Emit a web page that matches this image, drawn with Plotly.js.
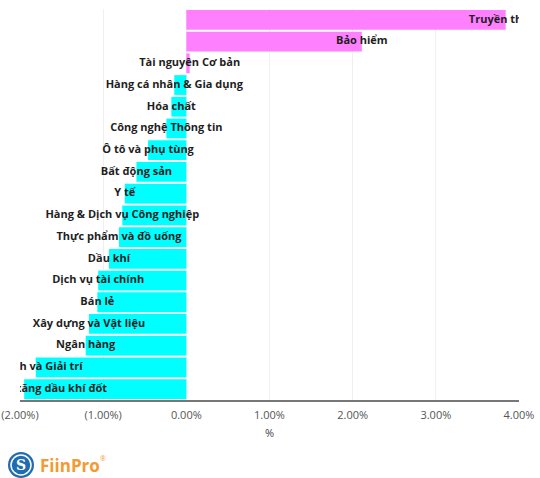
<!DOCTYPE html>
<html>
<head>
<meta charset="utf-8">
<script src="https://cdn.plot.ly/plotly-3.0.1.min.js"></script>
<style>html,body{margin:0;padding:0;background:#fff;}#chart{width:540px;height:478px;}</style>
</head>
<body>
<div id="chart"></div>
<script>
const sectors = [
  "Truyền thông",
  "Bảo hiểm",
  "Tài nguyên Cơ bản",
  "Hàng cá nhân & Gia dụng",
  "Hóa chất",
  "Công nghệ Thông tin",
  "Ô tô và phụ tùng",
  "Bất động sản",
  "Y tế",
  "Hàng & Dịch vụ Công nghiệp",
  "Thực phẩm và đồ uống",
  "Dầu khí",
  "Dịch vụ tài chính",
  "Bán lẻ",
  "Xây dựng và Vật liệu",
  "Ngân hàng",
  "Du lịch và Giải trí",
  "Điện, nước & xăng dầu khí đốt"
];
const changes = [3.84, 2.11, 0.04, -0.145, -0.18, -0.24, -0.46, -0.60, -0.74, -0.77, -0.81, -0.93, -1.06, -1.07, -1.17, -1.21, -1.81, -1.95];
const tickVals = [-2, -1, 0, 1, 2, 3, 4];
const tickLabels = ["(2.00%)", "(1.00%)", "0.00%", "1.00%", "2.00%", "3.00%", "4.00%"];

const POS = "#FF80FF", NEG = "#00FFFF";
const colors = changes.map(v => v >= 0 ? POS : NEG);

const bars = {
  type: "bar", orientation: "h",
  x: changes, y: sectors,
  marker: {color: colors, line: {width: 0}},
  hoverinfo: "skip", showlegend: false
};
const labels = {
  type: "scatter", mode: "text",
  x: changes, y: sectors,
  text: sectors,
  textposition: "middle center",
  textfont: {family: "Open Sans, sans-serif", size: 11, color: "#1e1e1e", weight: "bold"},
  cliponaxis: true,
  hoverinfo: "skip", showlegend: false
};

const layout = {
  width: 540, height: 478,
  margin: {l: 20, r: 21, t: 9, b: 78},
  paper_bgcolor: "#fff", plot_bgcolor: "#fff",
  bargap: 0.09,
  font: {family: "Open Sans, sans-serif"},
  xaxis: {
    range: [-2, 4], tickvals: tickVals, ticktext: tickLabels,
    showgrid: true, gridcolor: "#f0f0f0", gridwidth: 1,
    zeroline: false,
    showline: true, linecolor: "#777", linewidth: 2,
    ticks: "", tickfont: {size: 11, color: "#555"}, ticklabelstandoff: 4,
    title: {text: "%", font: {size: 11, color: "#444"}, standoff: 8},
    fixedrange: true
  },
  yaxis: {
    type: "category", range: [sectors.length - 0.5, -0.5],
    showticklabels: false, showgrid: false, zeroline: false, showline: false,
    ticks: "", fixedrange: true
  },
  annotations: [
    {xref: "paper", yref: "paper", x: 0, y: 0, xanchor: "left", yanchor: "top",
     xshift: 18, yshift: -55, text: "<b>FiinPro</b>", showarrow: false,
     font: {family: "Open Sans, sans-serif", size: 17, color: "#F39A33"}},
    {xref: "paper", yref: "paper", x: 0, y: 0, xanchor: "left", yanchor: "top",
     xshift: 98, yshift: -54, text: "®", showarrow: false,
     font: {family: "Open Sans, sans-serif", size: 7, color: "#F39A33"}},
    {xref: "paper", yref: "paper", x: 0, y: 0, xanchor: "center", yanchor: "middle",
     xshift: 0, yshift: -67, text: "<b>S</b>", showarrow: false,
     font: {family: "DejaVu Serif, serif", size: 14, color: "#ffffff"}}
  ]
};

Plotly.newPlot("chart", [bars, labels], layout, {displayModeBar: false, staticPlot: true}).then(gd => {
  const fl = gd._fullLayout;
  const px = x => (x - fl._size.l) / fl._size.w;
  const py = y => 1 - (y - fl._size.t) / fl._size.h;
  const cx = 21, cy = 465, r1 = 13, r2 = 10;
  Plotly.relayout(gd, {
    shapes: [
      {type: "circle", xref: "paper", yref: "paper", x0: px(cx - r1), x1: px(cx + r1), y0: py(cy + r1), y1: py(cy - r1),
       fillcolor: "#1F6DB0", line: {width: 0}},
      {type: "circle", xref: "paper", yref: "paper", x0: px(cx - r2), x1: px(cx + r2), y0: py(cy + r2), y1: py(cy - r2),
       fillcolor: "#1F6DB0", line: {width: 1.5, color: "#ffffff"}}
    ],
    "annotations[2].x": px(cx), "annotations[2].y": py(cy), "annotations[2].yshift": 0,
    "annotations[0].x": px(38), "annotations[0].y": py(cy), "annotations[0].yanchor": "middle", "annotations[0].xshift": 0, "annotations[0].yshift": 0,
    "annotations[1].x": px(98), "annotations[1].y": py(cy - 7), "annotations[1].yanchor": "middle", "annotations[1].xshift": 0, "annotations[1].yshift": 0
  });
});
</script>
</body>
</html>
